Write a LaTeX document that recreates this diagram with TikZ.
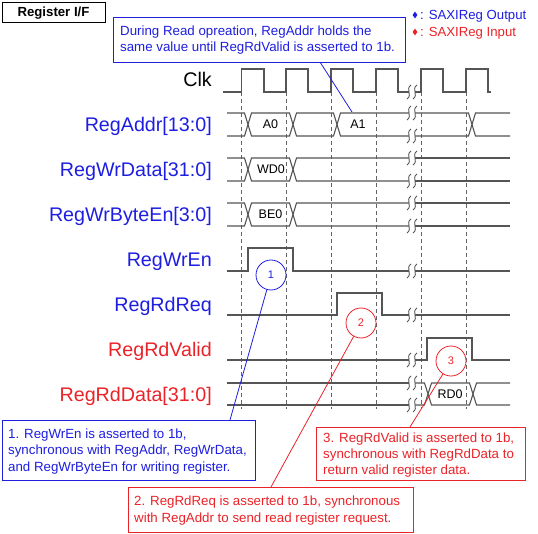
\documentclass[tikz,border=0pt]{standalone}
\usepackage{fontspec}
\setmainfont{Liberation Sans}
\usetikzlibrary{shapes.geometric}
\definecolor{regblue}{RGB}{30,30,225}
\definecolor{regred}{RGB}{235,35,40}
\definecolor{wavegray}{RGB}{85,85,85}
\definecolor{dashgray}{RGB}{100,100,100}
\newcommand{\wbrk}[1]{%
  \draw[brkline] (411,#1-7) .. controls (405,#1-3) and (413,#1+3) .. (407,#1+7);
  \draw[brkline] (417,#1-7) .. controls (411,#1-3) and (419,#1+3) .. (413,#1+7);
}
\begin{document}
\begin{tikzpicture}[x=1pt,y=-1pt,
  wave/.style={draw=wavegray, line width=1.1pt, line join=miter},
  brkline/.style={draw=wavegray, line width=0.9pt},
  gridline/.style={draw=dashgray, line width=0.8pt, dash pattern=on 4pt off 3pt},
  siglabel/.style={anchor=base east, inner sep=0, font=\fontsize{19.7}{20}\selectfont},
  buslabel/.style={anchor=base, inner sep=0, text=black, font=\fontsize{12.5}{13}\selectfont},
  boxframe/.style={draw, line width=0.9pt, anchor=north west, inner sep=0, fill=white},
  boxtext/.style={anchor=base west, inner sep=0, align=left, font=\fontsize{13.3}{16.2}\selectfont},
  numcircle/.style={circle, draw, line width=0.8pt, minimum size=30pt, inner sep=0, font=\fontsize{11}{11}\selectfont},
  pointer/.style={line width=0.8pt},
  legmark/.style={diamond, inner sep=0, minimum width=5pt, minimum height=7pt}
]
\useasboundingbox (0,0) rectangle (538,534);

% title box
\node[draw, line width=0.9pt, minimum width=103pt, minimum height=20pt, inner sep=0,
      font=\bfseries\fontsize{13.2}{14}\selectfont] (title) at (53.5,12.7) {Register I/F};

% legend
\node[legmark, fill=regblue] (dout) at (415,15) {};
\node[anchor=base west, inner sep=0, text=regblue, font=\fontsize{13.2}{14}\selectfont] (lout) at (420,19.5) {: SAXIReg Output};
\node[legmark, fill=regred] (din) at (415,32) {};
\node[anchor=base west, inner sep=0, text=regred, font=\fontsize{13.2}{14}\selectfont] (lin) at (420,36.5) {: SAXIReg Input};

% note box
\node[boxframe, draw=regblue, minimum width=292pt, minimum height=45pt] (note) at (113,17) {};
\node[boxtext, text=regblue] (notetxt) at (120,52) {During Read opreation, RegAddr holds the\\same value until RegRdValid is asserted to 1b.};

% signal labels
\node[siglabel, text=black] (lclk) at (212,87) {Clk};
\node[siglabel, text=regblue] (laddr) at (212,132) {RegAddr[13:0]};
\node[siglabel, text=regblue] (lwdata) at (212,177) {RegWrData[31:0]};
\node[siglabel, text=regblue] (lbe) at (212,222) {RegWrByteEn[3:0]};
\node[siglabel, text=regblue] (lwen) at (212,267) {RegWrEn};
\node[siglabel, text=regblue] (lrreq) at (212,311.5) {RegRdReq};
\node[siglabel, text=regred] (lrval) at (212,356) {RegRdValid};
\node[siglabel, text=regred] (lrdata) at (212,401) {RegRdData[31:0]};

% dashed clock-edge lines
\foreach \gx in {241.5,286,331,376,421,466}
  \draw[gridline] (\gx,92) -- (\gx,409);

% Clk
\draw[wave] (223,92) -- (241.5,92) -- (241.5,69) -- (264,69) -- (264,92) -- (286,92) -- (286,69) -- (308,69) -- (308,92) -- (331,92) -- (331,69) -- (353,69) -- (353,92) -- (376,92) -- (376,69) -- (398,69) -- (398,92) -- (409,92);
\draw[wave] (415,92) -- (421,92) -- (421,69) -- (443,69) -- (443,92) -- (466,92) -- (466,69) -- (488,69) -- (488,92) -- (491,92);
\wbrk{92}

% RegAddr
\draw[wave] (227,113) -- (244.5,113) -- (251.5,136) -- (289.5,136) -- (296.5,113) -- (333.5,113) -- (340.5,136) -- (409,136);
\draw[wave] (415,136) -- (468.5,136) -- (475.5,113) -- (510,113);
\draw[wave] (227,136) -- (244.5,136) -- (251.5,113) -- (289.5,113) -- (296.5,136) -- (333.5,136) -- (340.5,113) -- (409,113);
\draw[wave] (415,113) -- (468.5,113) -- (475.5,136) -- (510,136);
\wbrk{113}\wbrk{136}
\node[buslabel] (va0) at (270.5,128.8) {A0};
\node[buslabel] (va1) at (358,128.8) {A1};

% RegWrData
\draw[wave] (227,158) -- (244.5,158) -- (251.5,181) -- (289.5,181) -- (296.5,158) -- (409,158);
\draw[wave] (415,158) -- (510,158);
\draw[wave] (227,181) -- (244.5,181) -- (251.5,158) -- (289.5,158) -- (296.5,181) -- (409,181);
\draw[wave] (415,181) -- (510,181);
\wbrk{158}\wbrk{181}
\node[buslabel] (vwd0) at (271,173.8) {WD0};

% RegWrByteEn
\draw[wave] (227,203) -- (244.5,203) -- (251.5,226) -- (289.5,226) -- (296.5,203) -- (409,203);
\draw[wave] (415,203) -- (510,203);
\draw[wave] (227,226) -- (244.5,226) -- (251.5,203) -- (289.5,203) -- (296.5,226) -- (409,226);
\draw[wave] (415,226) -- (510,226);
\wbrk{203}\wbrk{226}
\node[buslabel] (vbe0) at (270.5,218.8) {BE0};

% RegWrEn
\draw[wave] (227,271) -- (248,271) -- (248,248) -- (293,248) -- (293,271) -- (409,271);
\draw[wave] (415,271) -- (510,271);
\wbrk{271}

% RegRdReq
\draw[wave] (227,315) -- (337,315) -- (337,293) -- (382,293) -- (382,315) -- (409,315);
\draw[wave] (415,315) -- (510,315);
\wbrk{315}

% RegRdValid
\draw[wave] (227,360) -- (409,360);
\draw[wave] (415,360) -- (427,360) -- (427,338) -- (472,338) -- (472,360) -- (510,360);
\wbrk{360}

% RegRdData
\draw[wave] (227,383) -- (409,383);
\draw[wave] (415,383) -- (424.5,383) -- (431.5,405) -- (469.5,405) -- (476.5,383) -- (510,383);
\draw[wave] (227,405) -- (409,405);
\draw[wave] (415,405) -- (424.5,405) -- (431.5,383) -- (469.5,383) -- (476.5,405) -- (510,405);
\wbrk{383}\wbrk{405}
\node[buslabel] (vrd0) at (450,398.3) {RD0};

% numbered circles
\node[numcircle, draw=regblue, text=regblue] (c1) at (271,275) {1};
\node[numcircle, draw=regred, text=regred] (c2) at (361,323) {2};
\node[numcircle, draw=regred, text=regred] (c3) at (451,361) {3};

% callout boxes
\node[boxframe, draw=regblue, minimum width=253pt, minimum height=60pt] (box1) at (2,420) {};
\node[boxtext, text=regblue] (box1txt) at (8,471) {1. RegWrEn is asserted to 1b,\\synchronous with RegAddr, RegWrData,\\and RegWrByteEn for writing register.};
\node[boxframe, draw=regred, minimum width=285pt, minimum height=45pt] (box2) at (128,487) {};
\node[boxtext, text=regred] (box2txt) at (134,522) {2. RegRdReq is asserted to 1b, synchronous\\with RegAddr to send read register request.};
\node[boxframe, draw=regred, minimum width=209pt, minimum height=53pt] (box3) at (316,427) {};
\node[boxtext, text=regred, font=\fontsize{13.3}{15.6}\selectfont] (box3txt) at (323,474) {3. RegRdValid is asserted to 1b,\\synchronous with RegRdData to\\return valid register data.};

% pointer lines
\coordinate (nfoot) at (320,62);
\coordinate (ntip) at (352,112);
\coordinate (b1top) at (230,420);
\coordinate (b2top) at (271,487);
\coordinate (b3top) at (410,427);
\draw[pointer, regblue] (nfoot) -- (ntip);
\draw[pointer, regblue] (c1) -- (b1top);
\draw[pointer, regred] (c2) -- (b2top);
\draw[pointer, regred] (c3) -- (b3top);
\end{tikzpicture}
\end{document}
